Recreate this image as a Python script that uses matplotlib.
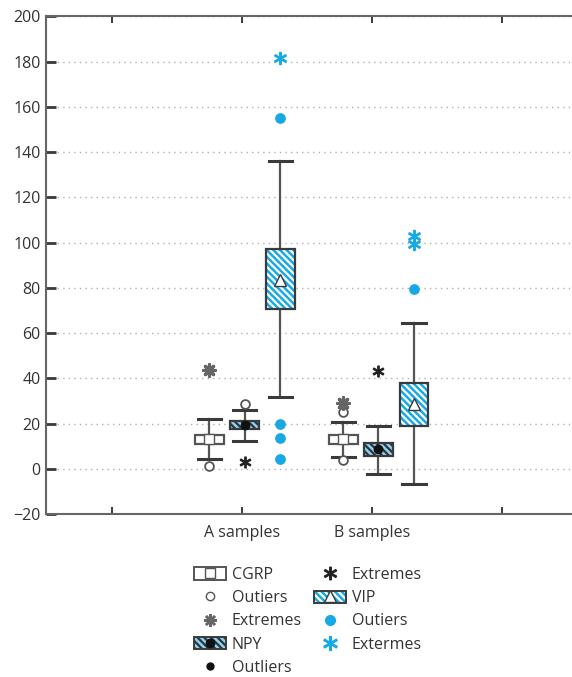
import matplotlib
matplotlib.use("Agg")
import matplotlib.pyplot as plt
from matplotlib.patches import Patch, PathPatch
from matplotlib.lines import Line2D
from matplotlib.legend_handler import HandlerTuple

plt.rcParams["font.family"] = ["Open Sans", "DejaVu Sans"]
plt.rcParams["hatch.linewidth"] = 1.6

groups = ["A samples", "B samples"]
series = ["CGRP", "NPY", "VIP"]

# per series: values for [A, B]
whislo = {"CGRP": [4.4, 5.4], "NPY": [12.4, -2.2], "VIP": [31.8, -6.6]}
q1 = {"CGRP": [11.0, 10.9], "NPY": [17.5, 5.7], "VIP": [70.6, 19.1]}
means = {"CGRP": [13.1, 13.3], "NPY": [19.4, 8.8], "VIP": [83.5, 28.7]}
q3 = {"CGRP": [15.0, 15.0], "NPY": [21.1, 11.3], "VIP": [97.2, 38.1]}
whishi = {"CGRP": [22.1, 20.6], "NPY": [25.8, 19.0], "VIP": [136.1, 64.5]}

outliers = {"CGRP": [[1.3], [24.9, 3.7]],
            "NPY": [[28.7], []],
            "VIP": [[155.2, 19.9, 13.4, 4.4], [79.5]]}
extremes = {"CGRP": [[43.7], [29.0]],
            "NPY": [[3.2], [43.3]],
            "VIP": [[181.5], [103.0, 99.4]]}

group_pos = [2.02, 3.05]
offsets = {"CGRP": -0.27, "NPY": 0.0, "VIP": 0.275}

dark = "#3a3a3a"
gray = "#555555"
blue = "#17a9e6"
light_blue = "#8fd2ef"

face = {"CGRP": "white", "NPY": light_blue, "VIP": blue}
hatch = {"CGRP": None, "NPY": "\\\\\\\\\\", "VIP": "\\\\\\\\\\"}
hatch_col = {"CGRP": "white", "NPY": "#2b3440", "VIP": "white"}
mean_marker = {"CGRP": dict(marker="s", markerfacecolor="white", markeredgecolor=gray, markersize=7),
               "NPY": dict(marker="o", markerfacecolor="#111111", markeredgecolor="#111111", markersize=6),
               "VIP": dict(marker="^", markerfacecolor="white", markeredgecolor=dark, markersize=8)}
out_style = {"CGRP": dict(marker="o", facecolors="white", edgecolors=gray, s=40, linewidths=1.3),
             "NPY": dict(marker="o", facecolors="white", edgecolors=gray, s=40, linewidths=1.3),
             "VIP": dict(marker="o", facecolors=blue, edgecolors=blue, s=45)}
ext_style = {"CGRP": dict(marker=(8, 2, 0), color="#666666", s=70, linewidths=2.3),
             "NPY": dict(marker="$*$", color="#222222", s=60),
             "VIP": dict(marker="$*$", color=blue, s=75)}

fig = plt.figure(figsize=(5.72, 6.77), dpi=100)
ax = fig.add_axes([46 / 572, 163 / 677, 526 / 572, 497.6 / 677])

for name in series:
    stats = []
    pos = []
    for i in range(len(groups)):
        stats.append(dict(med=means[name][i], q1=q1[name][i], q3=q3[name][i],
                          whislo=whislo[name][i], whishi=whishi[name][i],
                          mean=means[name][i], fliers=[]))
        pos.append(group_pos[i] + offsets[name])
    bp = ax.bxp(stats, positions=pos, widths=0.22, capwidths=0.18,
                patch_artist=True, showmeans=True, showfliers=False,
                boxprops=dict(facecolor=face[name], edgecolor=hatch_col[name], linewidth=0),
                whiskerprops=dict(color=gray, linewidth=1.6),
                capprops=dict(color=dark, linewidth=2.2),
                medianprops=dict(linewidth=0),
                meanprops=mean_marker[name], zorder=3)
    for b in bp["boxes"]:
        if hatch[name]:
            b.set_hatch(hatch[name])
        ax.add_patch(PathPatch(b.get_path(), fill=False, edgecolor=dark if name != "CGRP" else gray,
                               linewidth=1.6, zorder=3.5))
    for m in bp["means"]:
        m.set_zorder(4)
    for i in range(len(groups)):
        x = group_pos[i] + offsets[name]
        if outliers[name][i]:
            ax.scatter([x] * len(outliers[name][i]), outliers[name][i], zorder=4, **out_style[name])
        if extremes[name][i]:
            ax.scatter([x] * len(extremes[name][i]), extremes[name][i], zorder=4, **ext_style[name])

ax.set_xlim(0.492, 4.541)
ax.set_ylim(-20, 200)
ax.set_yticks(range(-20, 201, 20))
ax.set_xticks([1, 2, 3, 4])
ax.set_xticklabels(["", groups[0], groups[1], ""])
ax.tick_params(axis="both", direction="in", colors=dark, labelcolor="#333333", labelsize=11.5,
               length=5, width=1.4)
ax.tick_params(axis="x", top=True, pad=8)
ax.tick_params(axis="y", length=7, width=2, pad=4)
ax.grid(axis="y", linestyle=(0, (1, 3)), color="#b0b0b0", linewidth=1)
ax.set_axisbelow(True)
for s in ["left", "bottom", "top"]:
    ax.spines[s].set_color("#666666")
    ax.spines[s].set_linewidth(1.5)
ax.spines["right"].set_visible(False)

outline = dict(fill=False, edgecolor=dark, linewidth=1.4)
h_cgrp = (Patch(facecolor="white", edgecolor=gray, linewidth=1.4),
          Line2D([], [], ls="none", **mean_marker["CGRP"]))
h_out1 = Line2D([], [], ls="none", marker="o", markerfacecolor="white", markeredgecolor=gray, markersize=6)
h_ext1 = Line2D([], [], ls="none", marker=(8, 2, 0), color="#666666", markersize=9, markeredgewidth=1.8)
h_npy = (Patch(facecolor=light_blue, edgecolor=hatch_col["NPY"], hatch=hatch["NPY"], linewidth=0),
         Patch(**outline), Line2D([], [], ls="none", **mean_marker["NPY"]))
h_out2 = Line2D([], [], ls="none", marker="o", color="#111111", markersize=5)
h_ext2 = Line2D([], [], ls="none", marker="$*$", color="#222222", markersize=9)
h_vip = (Patch(facecolor=blue, edgecolor="white", hatch=hatch["VIP"], linewidth=0),
         Patch(**outline), Line2D([], [], ls="none", **mean_marker["VIP"]))
h_out3 = Line2D([], [], ls="none", marker="o", color=blue, markersize=7)
h_ext3 = Line2D([], [], ls="none", marker="$*$", color=blue, markersize=10)

handles = [h_cgrp, h_out1, h_ext1, h_npy, h_out2, h_ext2, h_vip, h_out3, h_ext3]
labels = ["CGRP", "Outiers", "Extremes", "NPY", "Outliers", "Extremes", "VIP", "Outiers", "Extermes"]
fig.legend(handles, labels, ncol=2, frameon=False, loc="upper left",
           bbox_to_anchor=(186 / 572, 1 - 559 / 677), fontsize=11.5,
           handler_map={tuple: HandlerTuple(ndivide=1)},
           handlelength=2.0, handleheight=0.8, handletextpad=0.35,
           columnspacing=0.8, labelspacing=0.45, borderpad=0, labelcolor="#333333")

fig.savefig("out.png", dpi=100)
